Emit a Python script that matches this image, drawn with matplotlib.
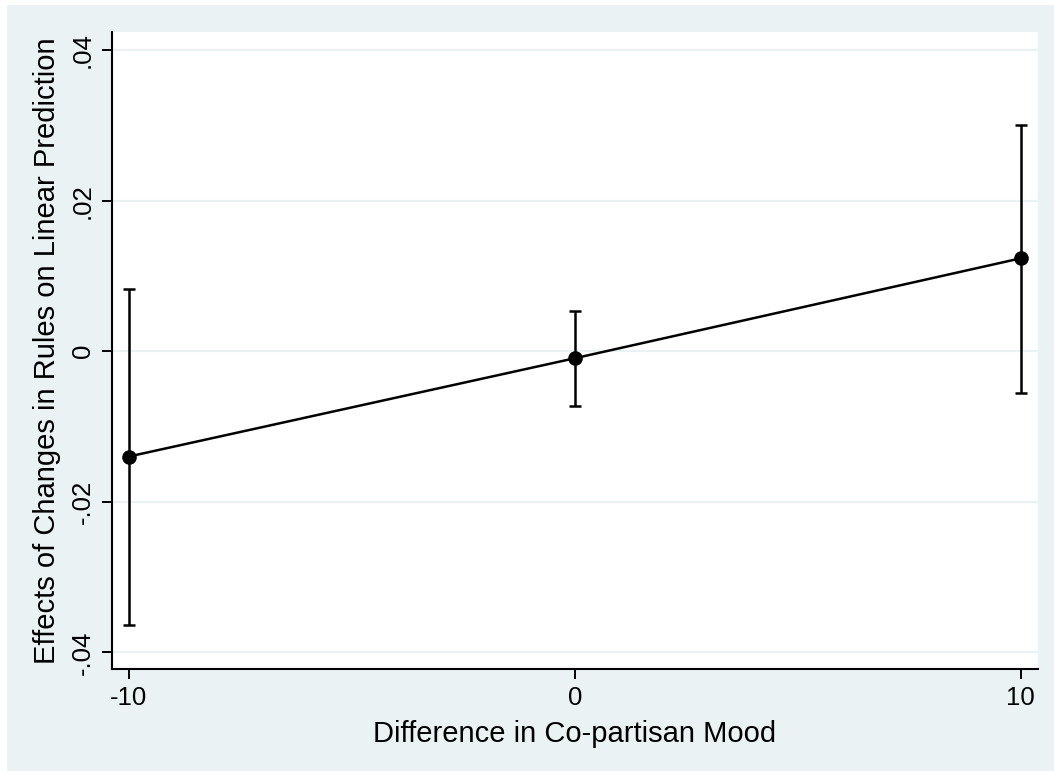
import numpy as np
import matplotlib
matplotlib.use("Agg")
import matplotlib.pyplot as plt
from matplotlib.patches import Rectangle

# --- Margins estimates ---
mood_diff = [-10, 0, 10]
effect = [-0.01398, -0.00093, 0.01234]
ci_low = [-0.03635, -0.00722, -0.00557]
ci_high = [0.00823, 0.00539, 0.03002]

x_ticks = [-10, 0, 10]
y_ticks = [-0.04, -0.02, 0, 0.02, 0.04]
y_ticklabels = ["-.04", "-.02", "0", ".02", ".04"]

bg_color = "#EAF2F3"
plt.rcParams["font.family"] = ["Liberation Sans", "DejaVu Sans"]

fig = plt.figure(figsize=(10.54, 7.71), dpi=100)
fig.patch.set_facecolor("white")
# outer graph region
fig.patches.append(Rectangle((7 / 1054, 0), 1, 1 - 5 / 771,
                             transform=fig.transFigure,
                             facecolor=bg_color, edgecolor="none", zorder=-10))

ax = fig.add_axes([112 / 1054, 1 - 669 / 771, (1038 - 112) / 1054, (669 - 32) / 771])
ax.set_zorder(5)
ax.set_facecolor("white")

eff = np.array(effect)
yerr = [eff - np.array(ci_low), np.array(ci_high) - eff]
ax.errorbar(mood_diff, eff, yerr=yerr, fmt="none", ecolor="black",
            elinewidth=1.8, capsize=4.3, capthick=1.8, zorder=3)
ax.plot(mood_diff, eff, color="black", linewidth=1.8, marker="o",
        markersize=9.5, zorder=4)

ax.set_xlim(-10.38, 10.39)
ax.set_ylim(-0.0422, 0.0424)
ax.set_xticks(x_ticks)
ax.set_xticklabels([str(v) for v in x_ticks])
ax.set_yticks(y_ticks)
ax.set_yticklabels(y_ticklabels, rotation=90, va="center")

ax.grid(axis="y", color=bg_color, linewidth=1.6, zorder=1)
ax.set_axisbelow(True)
for side in ["top", "right"]:
    ax.spines[side].set_visible(False)
for side in ["left", "bottom"]:
    ax.spines[side].set_linewidth(1.5)
ax.tick_params(axis="both", direction="out", length=7.5, width=1.4,
               labelsize=18.5, pad=5)

ax.set_xlabel("Difference in Co-partisan Mood", fontsize=21, labelpad=7)
ax.set_ylabel("Effects of Changes in Rules on Linear Prediction", fontsize=21,
              labelpad=7)

fig.savefig("out.png", dpi=100, facecolor=fig.get_facecolor())
